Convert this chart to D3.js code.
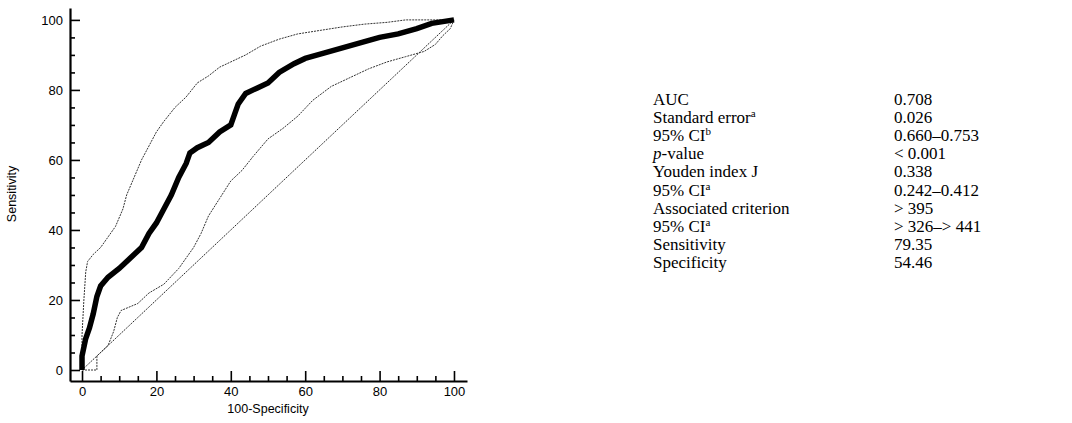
<!DOCTYPE html>
<html>
<head>
<meta charset="utf-8">
<script src="https://cdn.jsdelivr.net/npm/d3@7"></script>
<style>
  body { margin: 0; background: #fff; }
</style>
</head>
<body>
<script>
// ROC curve (100-Specificity, Sensitivity)
const rocPoints = [[0,0],[0,4],[1,9],[2,12],[3,16],[4,21],[5,24],[7,26.5],[10,29],[12,31],[14,33],[16,35],[18,39],[20,42],[22,46],[24,50],[26,55],[28,59],[29,62],[31,63.5],[34,65],[37,68],[40,70],[41,73],[42,76],[44,79],[47,80.5],[50,82],[53,85],[57,87.5],[60,89],[65,90.5],[70,92],[75,93.5],[80,95],[85,96],[90,97.5],[94,99],[97,99.5],[100,100]];
// upper 95% confidence bound
const upperPoints = [[0,0],[0,10],[0.5,20],[1,28],[1.5,31],[3,33],[5,35],[7,38],[9,41],[11,46],[12,50],[14,55],[16,60],[18,64],[20,68],[22,71],[25,75],[28,78],[31,82],[34,84],[37,86.5],[40,88],[44,90],[48,92.5],[53,94.5],[58,96],[64,97],[70,98],[76,98.8],[82,99.3],[87,100],[100,100]];
// lower 95% confidence bound
const lowerPoints = [[0,0],[4,0],[4,4],[7,7],[8.5,11],[9.5,15],[10.5,17],[15,19],[18,22],[22,24.5],[26,29],[28,32],[30,35],[32,39],[34,44],[37,49],[40,54],[43,57],[46,61],[50,66],[54,69],[58,72.5],[62,77],[67,81],[72,83.5],[77,86],[82,88],[87,89.5],[92,91],[95,93],[97,95.5],[99,97.5],[100,100]];
const diagPoints = [[0,0],[100,100]];

const majorTicks = [0, 20, 40, 60, 80, 100];
const minorTicks = [5,10,15,25,30,35,45,50,55,65,70,75,85,90,95];

// table rows: label, superscript, value
const rowLabels = ["AUC", "Standard error", "95% CI", "p", "Youden index J", "95% CI", "Associated criterion", "95% CI", "Sensitivity", "Specificity"];
const rowSups = ["", "a", "b", "", "", "a", "", "a", "", ""];
const rowValues = ["0.708", "0.026", "0.660\u20130.753", "< 0.001", "0.338", "0.242\u20130.412", "> 395", "> 326\u2013> 441", "79.35", "54.46"];

const width = 1072, height = 423;

const svg = d3.select("body").append("svg")
    .attr("width", width)
    .attr("height", height);

const x = d3.scaleLinear().domain([-3.23, 103.5]).range([70, 467]);
const y = d3.scaleLinear().domain([-3.14, 103.4]).range([381, 8]);

//axes
svg.append("g")
    .attr("transform", `translate(0,381)`)
    .call(d3.axisBottom(x).tickValues(majorTicks).tickSizeInner(-10).tickSizeOuter(0).tickPadding(6));
svg.append("g")
    .attr("transform", `translate(70,0)`)
    .call(d3.axisLeft(y).tickValues(majorTicks).tickSizeInner(-10).tickSizeOuter(0).tickPadding(7));

svg.append("g")
    .attr("transform", `translate(0,381)`)
    .call(d3.axisBottom(x).tickValues(minorTicks).tickSizeInner(-5).tickSizeOuter(0).tickFormat(""))
    .call(g => g.select(".domain").remove());
svg.append("g")
    .attr("transform", `translate(70,0)`)
    .call(d3.axisLeft(y).tickValues(minorTicks).tickSizeInner(-5).tickSizeOuter(0).tickFormat(""))
    .call(g => g.select(".domain").remove());

svg.selectAll(".domain").attr("stroke-width", 2.2);
svg.selectAll(".tick line").attr("stroke-width", 1.6);
svg.selectAll(".tick text")
    .attr("font-family", "Liberation Sans, Arial, sans-serif")
    .attr("font-size", 13)
    .attr("fill", "#000");

//axis titles
svg.append("text")
    .text("100-Specificity")
    .attr("x", 268)
    .attr("y", 413)
    .attr("text-anchor", "middle")
    .attr("font-family", "Liberation Sans, Arial, sans-serif")
    .attr("font-size", 12.5);

svg.append("text")
    .text("Sensitivity")
    .attr("transform", "translate(16,194) rotate(-90)")
    .attr("text-anchor", "middle")
    .attr("font-family", "Liberation Sans, Arial, sans-serif")
    .attr("font-size", 12.5);

//curves
const line = d3.line().x(d => x(d[0])).y(d => y(d[1]));

svg.append("path")
    .datum(diagPoints)
    .attr("d", line)
    .attr("fill", "none")
    .attr("stroke", "#222")
    .attr("stroke-width", 1)
    .attr("stroke-dasharray", "1.5,1");

svg.append("path")
    .datum(upperPoints)
    .attr("d", line)
    .attr("fill", "none")
    .attr("stroke", "#333")
    .attr("stroke-width", 1)
    .attr("stroke-dasharray", "2,1");

svg.append("path")
    .datum(lowerPoints)
    .attr("d", line)
    .attr("fill", "none")
    .attr("stroke", "#333")
    .attr("stroke-width", 1)
    .attr("stroke-dasharray", "2,1");

svg.append("path")
    .datum(rocPoints)
    .attr("d", line)
    .attr("fill", "none")
    .attr("stroke", "#000")
    .attr("stroke-width", 5.5)
    .attr("stroke-linejoin", "miter");

//table
const table = svg.append("g")
    .attr("font-family", "Liberation Serif, Times New Roman, serif")
    .attr("font-size", 17)
    .attr("fill", "#000");

rowLabels.forEach((label, i) => {
    const t = table.append("text")
        .attr("x", 653)
        .attr("y", 105 + i * 18.1);
    if (label === "p") {
        t.append("tspan").text("p").attr("font-style", "italic");
        t.append("tspan").text("-value");
    } else {
        t.append("tspan").text(label);
    }
    if (rowSups[i]) {
        t.append("tspan").text(rowSups[i]).attr("font-size", 11).attr("dy", -6);
    }
    table.append("text")
        .text(rowValues[i])
        .attr("x", 894)
        .attr("y", 105 + i * 18.1);
});
</script>
</body>
</html>
